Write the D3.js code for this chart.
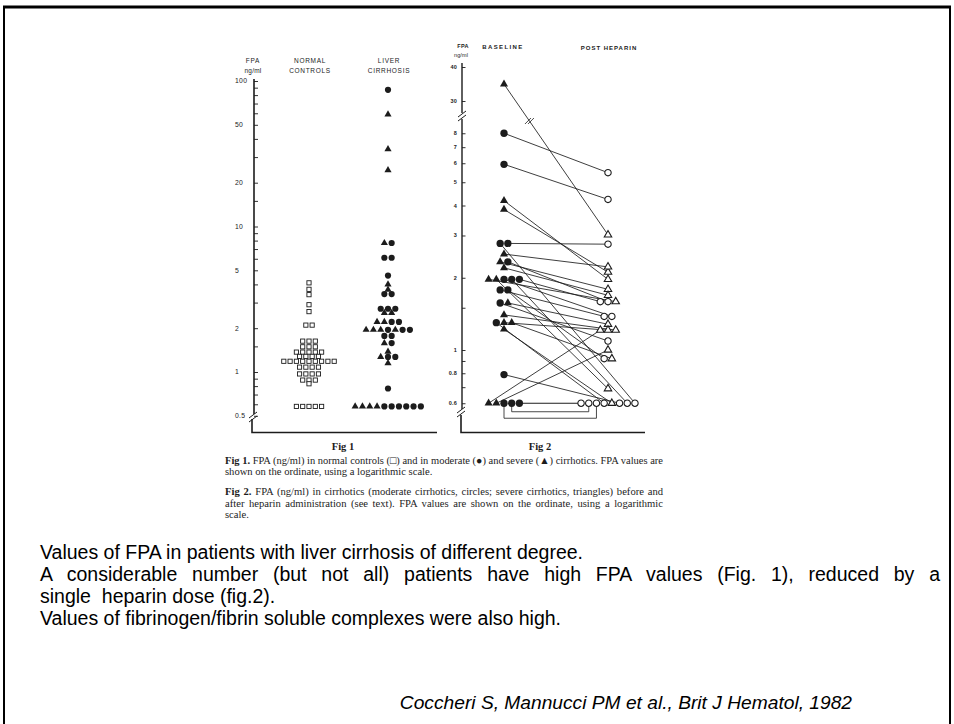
<!DOCTYPE html>
<html>
<head>
<meta charset="utf-8">
<script src="https://cdn.jsdelivr.net/npm/d3@7"></script>
<style>
  body { margin: 0; background: #fff; }
  svg { display: block; }
  text { white-space: pre; }
</style>
</head>
<body>
<div id="slide"></div>
<script>
// fig 1: FPA (ng/ml) in normal controls
var controlsFPA = [4.1, 3.7, 3.4, 2.9, 2.6, 2.1, 2.1, 1.63, 1.63, 1.63,
  1.49, 1.49, 1.49, 1.37, 1.37, 1.37, 1.37, 1.37, 1.28, 1.28, 1.28, 1.28,
  1.185, 1.185, 1.185, 1.185, 1.185, 1.185, 1.185, 1.185, 1.185,
  1.08, 1.08, 1.08, 1.08, 0.97, 0.97, 0.97, 0.97, 0.88, 0.88, 0.88, 0.83,
  0.58, 0.58, 0.58, 0.58, 0.58];

// fig 1: FPA in cirrhotics, moderate (circles) and severe (triangles)
var cirrhosisFPA = [87, 59, 34, 24.4, 7.7, 7.7, 6.1, 6.1, 4.6, 4.0, 3.68, 3.43, 3.43,
  2.72, 2.72, 2.72, 2.55, 2.55, 2.21, 2.21, 2.21, 2.21,
  1.95, 1.95, 1.95, 1.95, 1.95, 1.95, 1.95, 1.77, 1.77, 1.58, 1.58,
  1.38, 1.27, 1.27, 1.27, 1.15, 0.77,
  0.58, 0.58, 0.58, 0.58, 0.58, 0.58, 0.58, 0.58, 0.58, 0.58];
var cirrhosisGrade = ["m", "s", "s", "s", "s", "m", "m", "m", "m", "s", "s", "m", "m",
  "m", "m", "m", "s", "s", "s", "s", "m", "m",
  "s", "s", "s", "m", "s", "m", "m", "m", "m", "s", "m",
  "s", "s", "m", "m", "s", "m",
  "s", "s", "s", "s", "m", "m", "m", "m", "m", "m"];

// fig 2: paired values, baseline and post heparin
var pairGrade = ["s", "m", "m", "s", "s", "m", "m", "s", "s", "s", "s", "s",
  "m", "m", "m", "m", "m", "m", "s", "s", "m", "s", "m", "s", "s", "m",
  "s", "s", "m", "m", "m"];
var baselineFPA = [34.6, 8.0, 5.94, 4.19, 3.85, 2.78, 2.78, 2.51, 2.33, 2.2, 1.97, 1.97,
  2.33, 1.97, 1.97, 1.97, 1.78, 1.57, 1.57, 1.40, 0.79, 1.22, 1.30, 1.30, 1.30, 1.78,
  0.6, 0.6, 0.6, 0.6, 0.6];
var postHeparinFPA = [3.02, 5.48, 4.24, 1.97, 2.11, 0.6, 2.76, 2.22, 1.79, 1.69, 1.59, 0.69,
  1.59, 1.38, 0.6, 1.59, 1.38, 1.09, 1.28, 1.21, 0.6, 0.6, 0.6, 1.21, 0.92, 0.92,
  1.21, 1.0, 0.6, 0.6, 0.6];

var fig1Ticks = [0.5, 0.6, 0.7, 0.8, 0.9, 1, 1.5, 2, 3, 4, 5, 6, 7, 8, 9, 10, 15, 20, 30, 40, 50, 60, 70, 80, 90, 100];
var fig1Labels = [100, 50, 20, 10, 5, 2, 1, 0.5];
var fig2LowTicks = [0.6, 0.7, 0.8, 0.9, 1, 1.5, 2, 3, 4, 5, 6, 7, 8];
var fig2LowLabels = [0.6, 0.8, 1, 2, 3, 4, 5, 6, 7, 8];
var fig2HighTicks = [30, 40];

var svgWidth = 954;
var svgHeight = 724;
var ink = "#1c1c1c";

var svg = d3.select("#slide")
  .append("svg")
  .attr("width", svgWidth)
  .attr("height", svgHeight);

// slide frame
svg.append("path")
  .attr("d", "M4,730V7H950V730")
  .attr("fill", "none")
  .attr("stroke", "#000")
  .attr("stroke-width", 2);
svg.append("line")
  .attr("x1", 3).attr("x2", 951).attr("y1", 7).attr("y2", 7)
  .attr("stroke", "#000").attr("stroke-width", 3);

// rows of identical values are spread around the column centre
function rowLayout(values, spacing, reverse) {
  var offsets = new Array(values.length);
  var rows = d3.group(d3.range(values.length), i => values[i]);
  rows.forEach(function (idx) {
    var n = idx.length;
    idx.forEach(function (i, k) {
      var slot = reverse ? n - 1 - k : k;
      offsets[i] = (slot - (n - 1) / 2) * spacing;
    });
  });
  return offsets;
}

function slash(g, x, y) {
  [-2, 2].forEach(function (dy) {
    g.append("line")
      .attr("x1", x - 4).attr("y1", y + dy + 3)
      .attr("x2", x + 4).attr("y2", y + dy - 3)
      .attr("stroke", ink).attr("stroke-width", 1);
  });
}

function smallText(x, y, txt, anchor, opts) {
  opts = opts || {};
  return svg.append("text")
    .attr("x", x).attr("y", y)
    .attr("text-anchor", anchor || "middle")
    .attr("font-family", "Liberation Sans, Arial, sans-serif")
    .attr("font-size", opts.size || 6.5)
    .attr("font-weight", opts.bold ? "bold" : "normal")
    .attr("letter-spacing", opts.spacing == null ? 0.7 : opts.spacing)
    .attr("fill", ink)
    .text(txt);
}

// spread words so a line fills the given width
function justify(t, width) {
  var len = t.node().getComputedTextLength();
  var gaps = (t.text().match(/ /g) || []).length;
  if (gaps && len < width) t.attr("word-spacing", (width - len) / gaps);
}

var triangle = d3.symbol().type(d3.symbolTriangle);

// ---------- fig 1 ----------
var y1 = d3.scaleLog().domain([1, 100]).range([372, 81]);
var x1 = d3.scalePoint().domain(["controls", "cirrhosis"]).range([309, 388]);
var fig1 = svg.append("g");

fig1.append("line")
  .attr("x1", 254).attr("x2", 254).attr("y1", 79).attr("y2", 414)
  .attr("stroke", ink).attr("stroke-width", 1.6);
fig1.append("path")
  .attr("d", "M252,419V432.5H437")
  .attr("fill", "none").attr("stroke", ink).attr("stroke-width", 1.6);
slash(fig1, 253, 417);

var axis1 = fig1.append("g")
  .attr("transform", "translate(254,0)")
  .call(d3.axisRight(y1).tickValues(fig1Ticks).tickSize(4).tickFormat(""));
axis1.select(".domain").remove();
axis1.selectAll("line").attr("stroke", ink).attr("stroke-width", 0.9);

fig1Labels.forEach(function (v) {
  smallText(235, y1(v) + 2.3, String(v), "start", { size: 6.8, spacing: 0.3 });
});

smallText(253, 63, "FPA");
smallText(253, 73, "ng/ml", "middle", { spacing: 0.2 });
smallText(310, 63, "NORMAL");
smallText(310, 73, "CONTROLS");
smallText(389, 63, "LIVER");
smallText(389, 73, "CIRRHOSIS");

var ctrlOffset = rowLayout(controlsFPA, 6.3);
fig1.selectAll(".ctrl")
  .data(controlsFPA)
  .enter()
  .append("rect")
  .attr("class", "ctrl")
  .attr("x", (d, i) => x1("controls") + ctrlOffset[i] - 2.1)
  .attr("y", d => y1(d) - 2.1)
  .attr("width", 4.2)
  .attr("height", 4.2)
  .attr("fill", "#fff")
  .attr("stroke", ink)
  .attr("stroke-width", 0.9);

var cirOffset = rowLayout(cirrhosisFPA, 7.3);
fig1.selectAll(".cir")
  .data(cirrhosisFPA)
  .enter()
  .append("path")
  .attr("class", "cir")
  .attr("d", (d, i) => cirrhosisGrade[i] == "s"
    ? triangle.size(22)()
    : d3.symbol().type(d3.symbolCircle).size(30)())
  .attr("transform", (d, i) => `translate(${x1("cirrhosis") + cirOffset[i]}, ${y1(d)})`)
  .attr("fill", ink);

// ---------- fig 2 ----------
var y2Low = d3.scaleLog().domain([1, 10]).range([350, 110]);
var y2High = d3.scaleLog().domain([30, 40]).range([101, 67]);
function y2(v) { return v > 10 ? y2High(v) : y2Low(v); }
var x2 = d3.scalePoint().domain(["baseline", "post"]).range([504, 608]);
var fig2 = svg.append("g");

fig2.append("line")
  .attr("x1", 462).attr("x2", 462).attr("y1", 63).attr("y2", 113)
  .attr("stroke", ink).attr("stroke-width", 1.4);
fig2.append("line")
  .attr("x1", 462).attr("x2", 462).attr("y1", 119).attr("y2", 409)
  .attr("stroke", ink).attr("stroke-width", 1.4);
fig2.append("path")
  .attr("d", "M461,415V432.5H645")
  .attr("fill", "none").attr("stroke", ink).attr("stroke-width", 1.6);
slash(fig2, 462, 116);
slash(fig2, 461, 412);

[[y2Low, fig2LowTicks], [y2High, fig2HighTicks]].forEach(function (a) {
  var ax = fig2.append("g")
    .attr("transform", "translate(462,0)")
    .call(d3.axisRight(a[0]).tickValues(a[1]).tickSize(3.5).tickFormat(""));
  ax.select(".domain").remove();
  ax.selectAll("line").attr("stroke", ink).attr("stroke-width", 0.9);
});

fig2LowLabels.concat(fig2HighTicks).forEach(function (v) {
  smallText(457, y2(v) + 2, String(v), "end", { size: 5.5, bold: true, spacing: 0.2 });
});

smallText(463, 48, "FPA", "middle", { size: 5.5, bold: true, spacing: 0.3 });
smallText(461, 57, "ng/ml", "middle", { size: 5.5, spacing: 0.1 });
smallText(503, 49, "BASELINE", "middle", { size: 6, bold: true, spacing: 1.4 });
smallText(609, 50, "POST HEPARIN", "middle", { size: 6, bold: true, spacing: 1 });

var baseOffset = rowLayout(baselineFPA, 7.7);
var postOffset = rowLayout(postHeparinFPA, 7.7, true);

var pairs = baselineFPA.map(function (d, i) {
  return {
    grade: pairGrade[i],
    bx: x2("baseline") + baseOffset[i],
    by: y2(d),
    px: x2("post") + postOffset[i],
    py: y2(postHeparinFPA[i]),
    same: d == postHeparinFPA[i]
  };
});

// connecting lines; unchanged pairs get a bracket underneath
var bracketLevel = 0;
pairs.slice().reverse().forEach(function (p) {
  if (p.same) {
    var drop = bracketLevel * 6.5;
    bracketLevel += 1;
    fig2.append("path")
      .attr("d", drop == 0
        ? `M${p.bx},${p.by}H${p.px}`
        : `M${p.bx},${p.by}V${p.by + 2 + drop}H${p.px}V${p.py}`)
      .attr("fill", "none")
      .attr("stroke", ink)
      .attr("stroke-width", drop == 0 ? 1.1 : 0.8);
  } else {
    fig2.append("line")
      .attr("x1", p.bx).attr("y1", p.by)
      .attr("x2", p.px).attr("y2", p.py)
      .attr("stroke", ink)
      .attr("stroke-width", 0.85);
  }
});

// break mark on the line that crosses the axis break
pairs.filter(p => p.by < 110).forEach(function (p) {
  var t = (121 - p.by) / (p.py - p.by);
  var cx = p.bx + t * (p.px - p.bx);
  [-1.5, 1.5].forEach(function (dx) {
    fig2.append("line")
      .attr("x1", cx + dx - 3).attr("y1", 121 + 3)
      .attr("x2", cx + dx + 3).attr("y2", 121 - 3)
      .attr("stroke", ink).attr("stroke-width", 0.8);
  });
});

fig2.selectAll(".base")
  .data(pairs)
  .enter()
  .append("path")
  .attr("class", "base")
  .attr("d", d => d.grade == "s"
    ? triangle.size(28)()
    : d3.symbol().type(d3.symbolCircle).size(42)())
  .attr("transform", d => `translate(${d.bx}, ${d.by})`)
  .attr("fill", ink);

fig2.selectAll(".post")
  .data(pairs)
  .enter()
  .append("path")
  .attr("class", "post")
  .attr("d", d => d.grade == "s"
    ? triangle.size(24)()
    : d3.symbol().type(d3.symbolCircle).size(32)())
  .attr("transform", d => `translate(${d.px}, ${d.py})`)
  .attr("fill", "#fff")
  .attr("stroke", ink)
  .attr("stroke-width", 1.1);

// ---------- figure captions ----------
function serif(x, y, anchor, size) {
  return svg.append("text")
    .attr("x", x).attr("y", y)
    .attr("text-anchor", anchor)
    .attr("font-family", "Liberation Serif, Times New Roman, serif")
    .attr("font-size", size)
    .attr("fill", ink);
}

serif(343, 450, "middle", 10.5).attr("font-weight", "bold").text("Fig 1");
serif(540, 450, "middle", 10.5).attr("font-weight", "bold").text("Fig 2");

var captionLines = [
  ["Fig 1.", " FPA (ng/ml) in normal controls (\u25a1) and in moderate (\u25cf) and severe (\u25b2) cirrhotics. FPA values are", 464, true],
  ["", "shown on the ordinate, using a logarithmic scale.", 475, false],
  ["Fig 2.", " FPA (ng/ml) in cirrhotics (moderate cirrhotics, circles; severe cirrhotics, triangles) before and", 495, true],
  ["", "after heparin administration (see text). FPA values are shown on the ordinate, using a logarithmic", 507, true],
  ["", "scale.", 518, false]
];
captionLines.forEach(function (c) {
  var t = serif(225, c[2], "start", 10.6);
  if (c[0]) t.append("tspan").attr("font-weight", "bold").text(c[0]);
  t.append("tspan").text(c[1]);
  if (c[3]) {
    var len = t.node().getComputedTextLength();
    if (len > 438) t.attr("textLength", 438).attr("lengthAdjust", "spacingAndGlyphs");
    else justify(t, 438);
  }
});

// ---------- slide text ----------
var slideLines = [
  ["Values of FPA in patients with liver cirrhosis of different degree.", 559, false],
  ["A considerable number (but not all) patients have high FPA values (Fig. 1), reduced by a", 581, true],
  ["single  heparin dose (fig.2).", 603, false],
  ["Values of fibrinogen/fibrin soluble complexes were also high.", 625, false]
];
slideLines.forEach(function (l) {
  var t = svg.append("text")
    .attr("x", 40).attr("y", l[1])
    .attr("font-family", "Liberation Sans, Arial, sans-serif")
    .attr("font-size", 19.5)
    .attr("fill", "#000")
    .text(l[0]);
  if (l[2]) justify(t, 900);
});

svg.append("text")
  .attr("x", 852).attr("y", 709)
  .attr("text-anchor", "end")
  .attr("font-family", "Liberation Sans, Arial, sans-serif")
  .attr("font-style", "italic")
  .attr("font-size", 19.2)
  .attr("fill", "#000")
  .text("Coccheri S, Mannucci PM et al., Brit J Hematol, 1982");
</script>
</body>
</html>
